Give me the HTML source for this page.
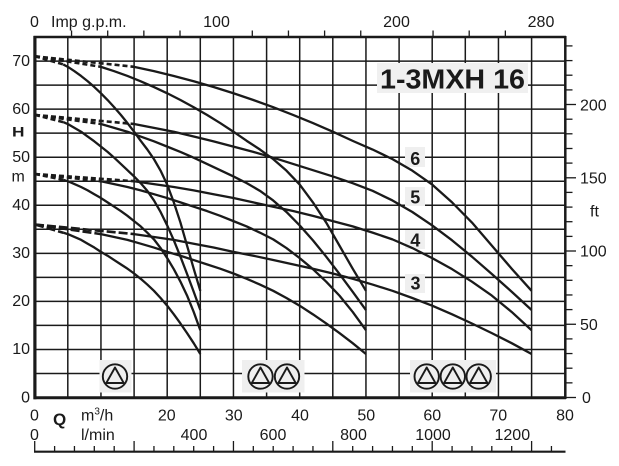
<!DOCTYPE html>
<html>
<head>
<meta charset="utf-8">
<style>
  html,body{margin:0;padding:0;background:#fff;}
  body{width:619px;height:466px;overflow:hidden;}
  svg{display:block;}
  text{font-family:"Liberation Sans",Arial,sans-serif;fill:#1a1a1a;}
</style>
</head>
<body>
<svg width="619" height="466" viewBox="0 0 619 466" xmlns="http://www.w3.org/2000/svg">
  <rect x="0" y="0" width="619" height="466" fill="#fff"/>

  <!-- grid -->
  <g stroke="#1a1a1a" stroke-width="1.5" fill="none">
    <line x1="67.8" y1="37" x2="67.8" y2="397.5"/>
    <line x1="100.95" y1="37" x2="100.95" y2="397.5"/>
    <line x1="134.1" y1="37" x2="134.1" y2="397.5"/>
    <line x1="167.2" y1="37" x2="167.2" y2="397.5"/>
    <line x1="200.3" y1="37" x2="200.3" y2="397.5"/>
    <line x1="233.45" y1="37" x2="233.45" y2="397.5"/>
    <line x1="266.6" y1="37" x2="266.6" y2="397.5"/>
    <line x1="299.7" y1="37" x2="299.7" y2="397.5"/>
    <line x1="332.8" y1="37" x2="332.8" y2="397.5"/>
    <line x1="365.95" y1="37" x2="365.95" y2="397.5"/>
    <line x1="399.1" y1="37" x2="399.1" y2="397.5"/>
    <line x1="432.2" y1="37" x2="432.2" y2="397.5"/>
    <line x1="465.3" y1="37" x2="465.3" y2="397.5"/>
    <line x1="498.45" y1="37" x2="498.45" y2="397.5"/>
    <line x1="531.6" y1="37" x2="531.6" y2="397.5"/>

    <line x1="35" y1="373.47" x2="565" y2="373.47"/>
    <line x1="35" y1="349.44" x2="565" y2="349.44"/>
    <line x1="35" y1="325.41" x2="565" y2="325.41"/>
    <line x1="35" y1="301.38" x2="565" y2="301.38"/>
    <line x1="35" y1="277.35" x2="565" y2="277.35"/>
    <line x1="35" y1="253.32" x2="565" y2="253.32"/>
    <line x1="35" y1="229.29" x2="565" y2="229.29"/>
    <line x1="35" y1="205.26" x2="565" y2="205.26"/>
    <line x1="35" y1="181.23" x2="565" y2="181.23"/>
    <line x1="35" y1="157.2" x2="565" y2="157.2"/>
    <line x1="35" y1="133.17" x2="565" y2="133.17"/>
    <line x1="35" y1="109.14" x2="565" y2="109.14"/>
    <line x1="35" y1="85.11" x2="565" y2="85.11"/>
    <line x1="35" y1="61.08" x2="565" y2="61.08"/>
  </g>

  <!-- borders -->
  <g stroke="#1a1a1a" fill="none">
    <line x1="33.5" y1="37" x2="566" y2="37" stroke-width="2.5"/>
    <line x1="565.3" y1="36" x2="565.3" y2="399" stroke-width="2.5"/>
    <line x1="33.5" y1="397.7" x2="566" y2="397.7" stroke-width="3"/>
    <line x1="34.9" y1="36" x2="34.9" y2="399.2" stroke-width="3.2"/>
  </g>

  <!-- title -->
  <rect x="377" y="63" width="151" height="30" fill="#f0f0f0"/>
  <text x="452.5" y="88.3" font-size="28" font-weight="bold" text-anchor="middle" textLength="145" lengthAdjust="spacingAndGlyphs">1-3MXH 16</text>

  <!-- curve labels -->
  <rect x="405" y="147" width="20" height="20" fill="#efefef"/>
  <rect x="405" y="187" width="20" height="19" fill="#efefef"/>
  <rect x="405" y="230" width="20" height="19" fill="#efefef"/>
  <rect x="405" y="274" width="20" height="19" fill="#efefef"/>
  <g font-size="18" font-weight="bold" text-anchor="middle">
    <text x="415.3" y="165">6</text>
    <text x="415.3" y="203.3">5</text>
    <text x="415.3" y="246.7">4</text>
    <text x="415.5" y="289.3">3</text>
  </g>

  <!-- dashed start lines -->
  <g stroke="#1a1a1a" stroke-width="2.6" fill="none" stroke-dasharray="5 3">
    <line x1="35" y1="56.3" x2="63.2" y2="64.4"/>
    <line x1="35" y1="56.3" x2="101" y2="66.8"/>
    <line x1="35" y1="56.3" x2="134.1" y2="66.8"/>
    <line x1="35" y1="114.9" x2="63.2" y2="122.1"/>
    <line x1="35" y1="114.9" x2="101" y2="124.0"/>
    <line x1="35" y1="114.9" x2="134.1" y2="124.0"/>
    <line x1="35" y1="174.0" x2="63.2" y2="179.8"/>
    <line x1="35" y1="174.0" x2="101" y2="181.2"/>
    <line x1="35" y1="174.0" x2="134.1" y2="181.2"/>
  </g>
  <g stroke="#1a1a1a" stroke-width="2.6" fill="none" stroke-dasharray="9 3">
    <line x1="35" y1="224.5" x2="63.2" y2="232.7"/>
    <line x1="35" y1="224.5" x2="101" y2="234.1"/>
    <line x1="35" y1="224.5" x2="134.1" y2="234.1"/>
  </g>

  <!-- curves: 1 pump -->
  <g transform="matrix(6.625 0 0 -4.806 34.7 397.5)" fill="none" stroke="#1a1a1a" stroke-width="2.3" stroke-linejoin="round">
    <polyline vector-effect="non-scaling-stroke" points="4.3,69.3 5,68.8 6,67.9 7,66.9 8,65.8 9,64.6 10,63.3 11,61.9 12,60.4 13,58.8 14,57.1 15,55.3 16,53.4 17,51.6 18,49.6 19,47.2 20,44.3 21,40.6 22,36.4 23,31.6 24,26.8 25,22.2"/>
    <polyline vector-effect="non-scaling-stroke" points="4.3,57.3 5,56.9 6,56.1 7,55.3 8,54.3 9,53.3 10,52.2 11,51.1 12,49.9 13,48.6 14,47.3 15,46.0 16,44.6 17,43.0 18,41.0 19,38.6 20,35.8 21,32.7 22,29.3 23,25.7 24,22.0 25,18.2"/>
    <polyline vector-effect="non-scaling-stroke" points="4.3,45.3 5,45.0 6,44.4 7,43.8 8,43.1 9,42.3 10,41.5 11,40.6 12,39.7 13,38.8 14,37.8 15,36.7 16,35.6 17,34.3 18,32.9 19,31.1 20,29.0 21,26.7 22,24.1 23,21.2 24,17.8 25,14.0"/>
    <polyline vector-effect="non-scaling-stroke" points="4.3,34.3 5,34.0 6,33.4 7,32.8 8,32.0 9,31.2 10,30.3 11,29.5 12,28.6 13,27.7 14,26.8 15,25.8 16,24.7 17,23.5 18,22.2 19,20.7 20,19.1 21,17.3 22,15.4 23,13.4 24,11.3 25,9.05"/>
  </g>
  <!-- curves: 2 pumps -->
  <g transform="matrix(13.25 0 0 -4.806 34.7 397.5)" fill="none" stroke="#1a1a1a" stroke-width="2.3" stroke-linejoin="round">
    <polyline vector-effect="non-scaling-stroke" points="5,68.8 6,67.9 7,66.9 8,65.8 9,64.6 10,63.3 11,61.9 12,60.4 13,58.8 14,57.1 15,55.3 16,53.4 17,51.6 18,49.6 19,47.2 20,44.3 21,40.6 22,36.4 23,31.6 24,26.8 25,22.2"/>
    <polyline vector-effect="non-scaling-stroke" points="5,56.9 6,56.1 7,55.3 8,54.3 9,53.3 10,52.2 11,51.1 12,49.9 13,48.6 14,47.3 15,46.0 16,44.6 17,43.0 18,41.0 19,38.6 20,35.8 21,32.7 22,29.3 23,25.7 24,22.0 25,18.2"/>
    <polyline vector-effect="non-scaling-stroke" points="5,45.0 6,44.4 7,43.8 8,43.1 9,42.3 10,41.5 11,40.6 12,39.7 13,38.8 14,37.8 15,36.7 16,35.6 17,34.3 18,32.9 19,31.1 20,29.0 21,26.7 22,24.1 23,21.2 24,17.8 25,14.0"/>
    <polyline vector-effect="non-scaling-stroke" points="5,34.0 6,33.4 7,32.8 8,32.0 9,31.2 10,30.3 11,29.5 12,28.6 13,27.7 14,26.8 15,25.8 16,24.7 17,23.5 18,22.2 19,20.7 20,19.1 21,17.3 22,15.4 23,13.4 24,11.3 25,9.05"/>
  </g>
  <!-- curves: 3 pumps -->
  <g transform="matrix(19.875 0 0 -4.806 34.7 397.5)" fill="none" stroke="#1a1a1a" stroke-width="2.3" stroke-linejoin="round">
    <polyline vector-effect="non-scaling-stroke" points="5,68.8 6,67.9 7,66.9 8,65.8 9,64.6 10,63.3 11,61.9 12,60.4 13,58.8 14,57.1 15,55.3 16,53.4 17,51.6 18,49.6 19,47.2 20,44.3 21,40.6 22,36.4 23,31.6 24,26.8 25,22.2"/>
    <polyline vector-effect="non-scaling-stroke" points="5,56.9 6,56.1 7,55.3 8,54.3 9,53.3 10,52.2 11,51.1 12,49.9 13,48.6 14,47.3 15,46.0 16,44.6 17,43.0 18,41.0 19,38.6 20,35.8 21,32.7 22,29.3 23,25.7 24,22.0 25,18.2"/>
    <polyline vector-effect="non-scaling-stroke" points="5,45.0 6,44.4 7,43.8 8,43.1 9,42.3 10,41.5 11,40.6 12,39.7 13,38.8 14,37.8 15,36.7 16,35.6 17,34.3 18,32.9 19,31.1 20,29.0 21,26.7 22,24.1 23,21.2 24,17.8 25,14.0"/>
    <polyline vector-effect="non-scaling-stroke" points="5,34.0 6,33.4 7,32.8 8,32.0 9,31.2 10,30.3 11,29.5 12,28.6 13,27.7 14,26.8 15,25.8 16,24.7 17,23.5 18,22.2 19,20.7 20,19.1 21,17.3 22,15.4 23,13.4 24,11.3 25,9.05"/>
  </g>

  <!-- pump icons -->
  <rect x="99.5" y="360" width="32" height="32.5" fill="#efefef"/>
  <rect x="242" y="360" width="62.5" height="32.5" fill="#efefef"/>
  <rect x="410" y="360" width="86" height="32.5" fill="#efefef"/>
  <g fill="none" stroke="#1a1a1a" stroke-width="1.9" stroke-linejoin="round">
    <circle cx="115" cy="376.5" r="12.2"/>
    <polygon points="115,367.5 106.3,383 123.7,383"/>
    <circle cx="260.5" cy="376.5" r="12.2"/>
    <polygon points="260.5,367.5 251.8,383 269.2,383"/>
    <circle cx="287" cy="376.5" r="12.2"/>
    <polygon points="287,367.5 278.3,383 295.7,383"/>
    <circle cx="426.7" cy="376.5" r="12.2"/>
    <polygon points="426.7,367.5 418,383 435.4,383"/>
    <circle cx="452.8" cy="376.5" r="12.2"/>
    <polygon points="452.8,367.5 444.1,383 461.5,383"/>
    <circle cx="478.7" cy="376.5" r="12.2"/>
    <polygon points="478.7,367.5 470,383 487.4,383"/>
  </g>

  <!-- left axis labels -->
  <g font-size="16" text-anchor="end">
    <text x="30" y="402.3">0</text>
    <text x="30" y="354.2">10</text>
    <text x="30" y="306.2">20</text>
    <text x="30" y="258.1">30</text>
    <text x="30" y="210.1">40</text>
    <text x="30" y="162">50</text>
    <text x="30" y="113.9">60</text>
    <text x="30" y="65.9">70</text>
  </g>
  <text x="12" y="136.5" font-size="14" font-weight="bold" textLength="12.5" lengthAdjust="spacingAndGlyphs">H</text>
  <text x="11.5" y="181.5" font-size="16">m</text>

  <!-- right axis ticks -->
  <g stroke="#1a1a1a" stroke-width="1.3">
    <line x1="565" y1="397.5" x2="576" y2="397.5"/>
    <line x1="565" y1="382.85" x2="572.5" y2="382.85"/>
    <line x1="565" y1="368.2" x2="572.5" y2="368.2"/>
    <line x1="565" y1="353.55" x2="572.5" y2="353.55"/>
    <line x1="565" y1="338.9" x2="572.5" y2="338.9"/>
    <line x1="565" y1="324.26" x2="576" y2="324.26"/>
    <line x1="565" y1="309.6" x2="572.5" y2="309.6"/>
    <line x1="565" y1="294.96" x2="572.5" y2="294.96"/>
    <line x1="565" y1="280.3" x2="572.5" y2="280.3"/>
    <line x1="565" y1="265.66" x2="572.5" y2="265.66"/>
    <line x1="565" y1="251.0" x2="576" y2="251.0"/>
    <line x1="565" y1="236.4" x2="572.5" y2="236.4"/>
    <line x1="565" y1="221.7" x2="572.5" y2="221.7"/>
    <line x1="565" y1="207.1" x2="572.5" y2="207.1"/>
    <line x1="565" y1="192.4" x2="572.5" y2="192.4"/>
    <line x1="565" y1="177.8" x2="576" y2="177.8"/>
    <line x1="565" y1="163.1" x2="572.5" y2="163.1"/>
    <line x1="565" y1="148.5" x2="572.5" y2="148.5"/>
    <line x1="565" y1="133.8" x2="572.5" y2="133.8"/>
    <line x1="565" y1="119.2" x2="572.5" y2="119.2"/>
    <line x1="565" y1="104.5" x2="576" y2="104.5"/>
    <line x1="565" y1="89.9" x2="572.5" y2="89.9"/>
    <line x1="565" y1="75.2" x2="572.5" y2="75.2"/>
    <line x1="565" y1="60.6" x2="572.5" y2="60.6"/>
    <line x1="565" y1="45.9" x2="572.5" y2="45.9"/>
  </g>
  <g font-size="16">
    <text x="580" y="110.5">200</text>
    <text x="580" y="183.3">150</text>
    <text x="580" y="256.5">100</text>
    <text x="580" y="329.8">50</text>
    <text x="582" y="403">0</text>
    <text x="590" y="216.7">ft</text>
  </g>

  <!-- top axis -->
  <g stroke="#1a1a1a" stroke-width="1.3">
    <line x1="71.55" y1="30.5" x2="71.55" y2="37"/>
    <line x1="107.7" y1="30.5" x2="107.7" y2="37"/>
    <line x1="143.85" y1="30.5" x2="143.85" y2="37"/>
    <line x1="180" y1="30.5" x2="180" y2="37"/>
    <line x1="252.3" y1="30.5" x2="252.3" y2="37"/>
    <line x1="288.45" y1="30.5" x2="288.45" y2="37"/>
    <line x1="324.6" y1="30.5" x2="324.6" y2="37"/>
    <line x1="360.75" y1="30.5" x2="360.75" y2="37"/>
    <line x1="433.05" y1="30.5" x2="433.05" y2="37"/>
    <line x1="469.2" y1="30.5" x2="469.2" y2="37"/>
    <line x1="505.35" y1="30.5" x2="505.35" y2="37"/>
  </g>
  <g font-size="16">
    <text x="34.5" y="27" text-anchor="middle">0</text>
    <text x="51" y="27">Imp g.p.m.</text>
    <text x="216.5" y="27" text-anchor="middle">100</text>
    <text x="396.5" y="27" text-anchor="middle">200</text>
    <text x="541" y="27" text-anchor="middle">280</text>
  </g>

  <!-- bottom labels -->
  <g font-size="16" text-anchor="middle">
    <text x="34.5" y="420.7">0</text>
    <text x="166.8" y="420.7">20</text>
    <text x="233.8" y="420.7">30</text>
    <text x="300" y="420.7">40</text>
    <text x="366.3" y="420.7">50</text>
    <text x="432.3" y="420.7">60</text>
    <text x="498.3" y="420.7">70</text>
    <text x="565" y="420.7">80</text>

    <text x="34.5" y="440">0</text>
    <text x="194" y="440">400</text>
    <text x="273" y="440">600</text>
    <text x="353.5" y="440">800</text>
    <text x="433" y="440">1000</text>
    <text x="512.3" y="440">1200</text>
  </g>
  <text x="53" y="425" font-size="17" font-weight="bold">Q</text>
  <text x="81" y="420.7" font-size="16">m<tspan font-size="10" dy="-6">3</tspan><tspan dy="6">/h</tspan></text>
  <text x="81" y="440" font-size="16">l/min</text>

  <!-- bottom l/min axis -->
  <g stroke="#1a1a1a" stroke-width="1.3">
    <line x1="34.7" y1="441" x2="34.7" y2="451"/>
    <line x1="54.6" y1="446" x2="54.6" y2="451"/>
    <line x1="74.45" y1="446" x2="74.45" y2="451"/>
    <line x1="94.3" y1="446" x2="94.3" y2="451"/>
    <line x1="114.2" y1="446" x2="114.2" y2="451"/>
    <line x1="134.1" y1="441" x2="134.1" y2="451"/>
    <line x1="153.95" y1="446" x2="153.95" y2="451"/>
    <line x1="173.8" y1="446" x2="173.8" y2="451"/>
    <line x1="193.7" y1="446" x2="193.7" y2="451"/>
    <line x1="213.6" y1="446" x2="213.6" y2="451"/>
    <line x1="233.45" y1="441" x2="233.45" y2="451"/>
    <line x1="253.3" y1="446" x2="253.3" y2="451"/>
    <line x1="273.2" y1="446" x2="273.2" y2="451"/>
    <line x1="293.1" y1="446" x2="293.1" y2="451"/>
    <line x1="312.95" y1="446" x2="312.95" y2="451"/>
    <line x1="332.8" y1="441" x2="332.8" y2="451"/>
    <line x1="352.7" y1="446" x2="352.7" y2="451"/>
    <line x1="372.6" y1="446" x2="372.6" y2="451"/>
    <line x1="392.45" y1="446" x2="392.45" y2="451"/>
    <line x1="412.3" y1="446" x2="412.3" y2="451"/>
    <line x1="432.2" y1="441" x2="432.2" y2="451"/>
    <line x1="452.1" y1="446" x2="452.1" y2="451"/>
    <line x1="471.95" y1="446" x2="471.95" y2="451"/>
    <line x1="491.8" y1="446" x2="491.8" y2="451"/>
    <line x1="511.7" y1="446" x2="511.7" y2="451"/>
    <line x1="531.6" y1="441" x2="531.6" y2="451"/>
    <line x1="551.45" y1="446" x2="551.45" y2="451"/>
  </g>
  <line x1="34" y1="451.7" x2="565.5" y2="451.7" stroke="#1a1a1a" stroke-width="2.2"/>
</svg>
</body>
</html>
